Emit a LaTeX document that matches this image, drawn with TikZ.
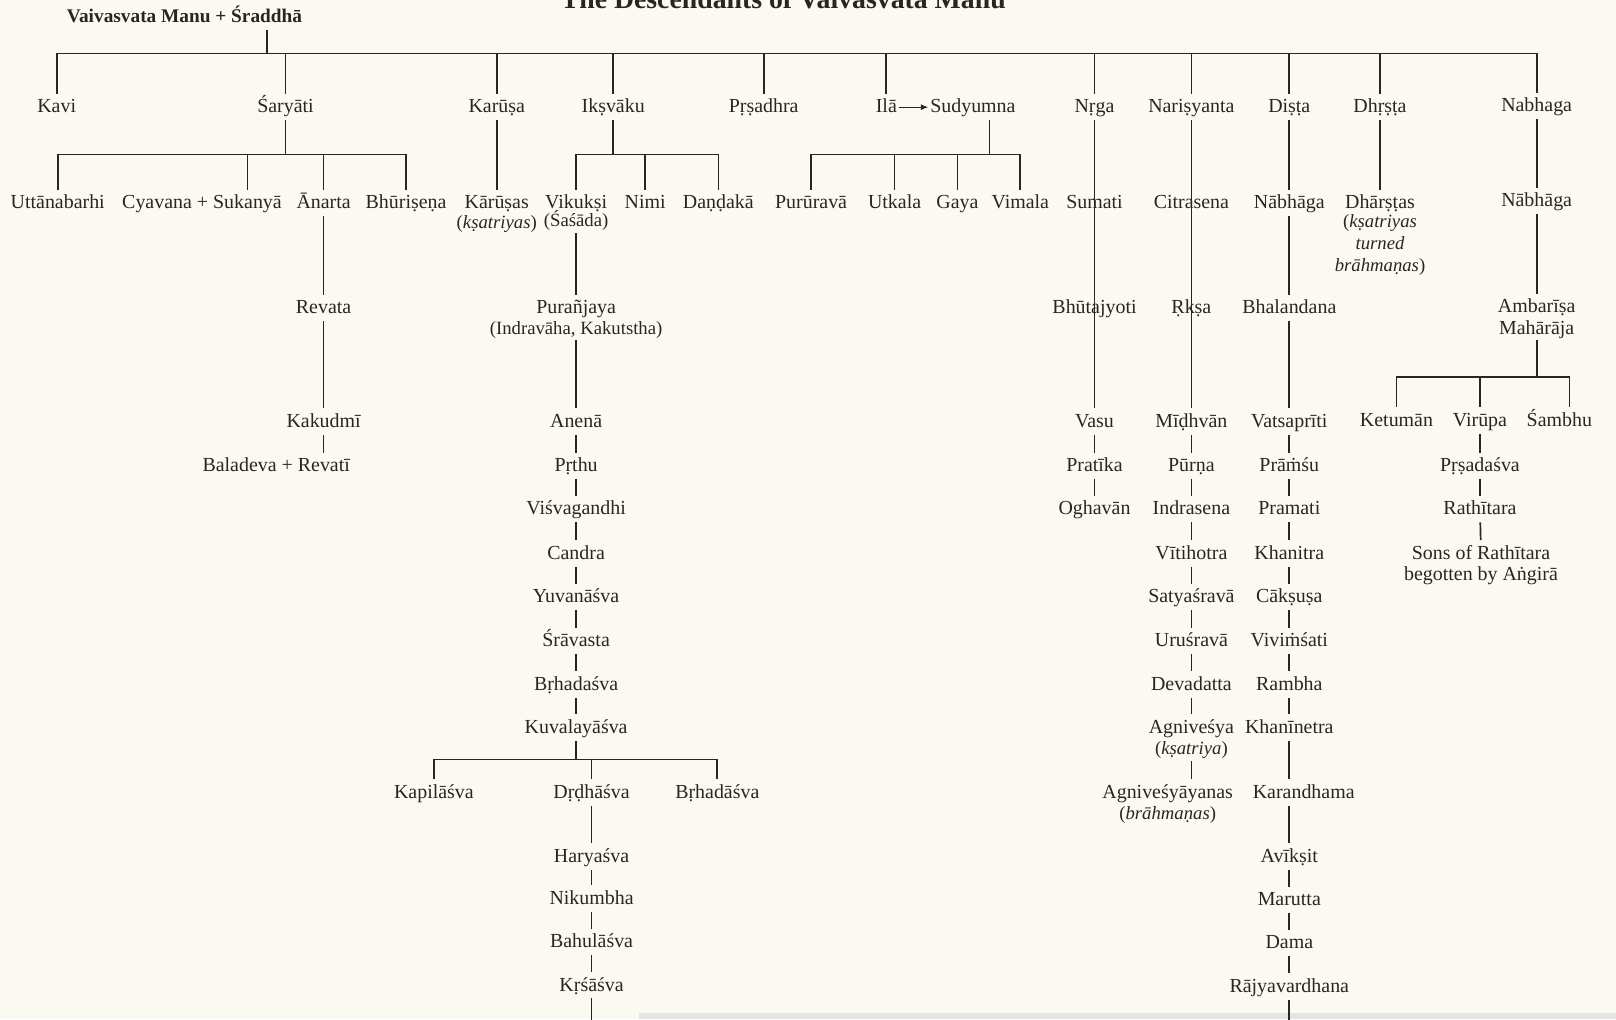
\documentclass[tikz,border=0pt]{standalone}
\usepackage{fontspec}
\setmainfont{Liberation Serif}
\usetikzlibrary{arrows.meta}
\definecolor{paper}{RGB}{251,250,242}
\definecolor{ink}{RGB}{40,38,35}
\tikzset{
  tname/.style  ={text=ink, inner sep=1.5pt, text height=14pt, text depth=4.5pt,
                  font=\fontsize{16.5}{19}\selectfont},
  tname2/.style ={tname, inner sep=1pt, text height=11pt, text depth=4pt},
  tsub/.style   ={tname2, font=\fontsize{15.5}{18}\selectfont},
  troot/.style  ={tname, font=\fontsize{16}{18}\selectfont\bfseries},
  ttitle/.style ={text=ink, inner sep=0pt, anchor=base,
                  font=\fontsize{23}{26}\selectfont\bfseries},
  kin/.style    ={draw=ink, line width=1.4pt},
  becomes/.style={draw=ink, line width=1pt, -{Latex[length=6pt,width=5pt]}}
}

\begin{document}
\begin{tikzpicture}[x=0.03cm, y=-0.03cm]
  \useasboundingbox (0,0) rectangle (1568,989);
  \clip (0,0) rectangle (1568,989);
  \fill[paper] (0,0) rectangle (1568,989);
  \fill[black!10] (620,983) rectangle (1568,989);

  % title and parents
  \node[ttitle] (title) at (760,8) {The Descendants of Vaivasvata Manu};
  \node[troot]  (manu)  at (179,16) {Vaivasvata Manu + Śraddhā};
  \coordinate (jmanu) at (259,52);

  % sons of Manu
  \node[tname] (kavi)       at (55,104)   {Kavi};
  \node[tname] (saryati)    at (277,104)  {Śaryāti};
  \node[tname] (karusa)     at (482,104)  {Karūṣa};
  \node[tname] (iksvaku)    at (595,104)  {Ikṣvāku};
  \node[tname] (prsadhra)   at (741,104)  {Pṛṣadhra};
  \node[tname] (ila)        at (860,104)  {Ilā};
  \node[tname] (sudyumna)   at (944,104)  {Sudyumna};
  \node[tname] (nrga)       at (1062,104) {Nṛga};
  \node[tname] (narisyanta) at (1156,104) {Nariṣyanta};
  \node[tname] (dista)      at (1251,104) {Diṣṭa};
  \node[tname] (dhrsta)     at (1339,104) {Dhṛṣṭa};
  \node[tname] (nabhaga)    at (1491,103) {Nabhaga};
  \draw[kin] (manu.south -| jmanu) -- (jmanu);
  \draw[kin] (kavi.north) |- (nabhaga.north |- jmanu) -- (nabhaga.north);
  \foreach \n in {saryati,karusa,iksvaku,prsadhra,ila,nrga,narisyanta,dista,dhrsta}
    \draw[kin] (\n.north |- jmanu) -- (\n.north);
  \draw[becomes] (ila) -- (sudyumna);

  % Saryati
  \node[tname] (uttana)    at (56,197)  {Uttānabarhi};
  \node[tname] (cyavana)   at (196,197) {Cyavana + Sukanyā};
  \node[tname] (anarta)    at (314,197) {Ānarta};
  \node[tname] (bhurisena) at (394,197) {Bhūriṣeṇa};
  \coordinate (jsar) at (277,150);
  \coordinate (dcya) at (240,150);
  \draw[kin] (saryati.south) -- (jsar);
  \draw[kin] (uttana.north) |- (bhurisena.north |- jsar) -- (bhurisena.north);
  \draw[kin] (dcya) -- (dcya |- cyavana.north);
  \draw[kin] (anarta.north |- jsar) -- (anarta.north);
  \node[tname] (revata)   at (314,299) {Revata};
  \node[tname] (kakudmi)  at (314,409) {Kakudmī};
  \node[tname] (baladeva) at (268,452) {Baladeva + Revatī};
  \draw[kin] (anarta) -- (revata);
  \draw[kin] (revata) -- (kakudmi);
  \draw[kin] (kakudmi.south) -- (kakudmi.south |- baladeva.north);

  % Karusa
  \node[tname] (karusas)     at (482,197) {Kārūṣas};
  \node[tsub]  (karusasnote) at (482,218) {(\textit{kṣatriyas})};
  \draw[kin] (karusa) -- (karusas);

  % Iksvaku
  \node[tname] (vikuksi) at (559,197) {Vikukṣi};
  \node[tsub]  (sasada)  at (559,216) {(Śaśāda)};
  \node[tname] (nimi)    at (626,197) {Nimi};
  \node[tname] (dandaka) at (697,197) {Daṇḍakā};
  \coordinate (jiks) at (595,150);
  \draw[kin] (iksvaku.south) -- (jiks);
  \draw[kin] (vikuksi.north) |- (dandaka.north |- jiks) -- (dandaka.north);
  \draw[kin] (nimi.north |- jiks) -- (nimi.north);
  \node[tname] (puranjaya)   at (559,299) {Purañjaya};
  \node[tsub]  (indravaha)   at (559,320) {(Indravāha, Kakutstha)};
  \node[tname] (anena)       at (559,409) {Anenā};
  \node[tname] (prthu)       at (559,452) {Pṛthu};
  \node[tname] (visvagandhi) at (559,494) {Viśvagandhi};
  \node[tname] (candra)      at (559,537) {Candra};
  \node[tname] (yuvanasva)   at (559,579) {Yuvanāśva};
  \node[tname] (sravasta)    at (559,622) {Śrāvasta};
  \node[tname] (brhadasva)   at (559,664) {Bṛhadaśva};
  \node[tname] (kuvalayasva) at (559,706) {Kuvalayāśva};
  \draw[kin] (sasada) -- (puranjaya);
  \draw[kin] (indravaha) -- (anena);
  \foreach \a/\b in {anena/prthu,prthu/visvagandhi,visvagandhi/candra,candra/yuvanasva,
                     yuvanasva/sravasta,sravasta/brhadasva,brhadasva/kuvalayasva}
    \draw[kin] (\a) -- (\b);
  \coordinate (jkuv) at (559,737);
  \node[tname] (kapilasva)  at (421,769) {Kapilāśva};
  \node[tname] (drdhasva)   at (574,769) {Dṛḍhāśva};
  \node[tname] (brhadasvab) at (696,769) {Bṛhadāśva};
  \draw[kin] (kuvalayasva.south) -- (jkuv);
  \draw[kin] (kapilasva.north) |- (brhadasvab.north |- jkuv) -- (brhadasvab.north);
  \draw[kin] (drdhasva.north |- jkuv) -- (drdhasva.north);
  \node[tname] (haryasva)  at (574,831) {Haryaśva};
  \node[tname] (nikumbha)  at (574,872) {Nikumbha};
  \node[tname] (bahulasva) at (574,914) {Bahulāśva};
  \node[tname] (krsasva)   at (574,956) {Kṛśāśva};
  \foreach \a/\b in {drdhasva/haryasva,haryasva/nikumbha,nikumbha/bahulasva,bahulasva/krsasva}
    \draw[kin] (\a) -- (\b);
  \coordinate (krsend) at (574,995);
  \draw[kin] (krsasva.south) -- (krsend);

  % Ila -> Sudyumna
  \node[tname] (pururava) at (787,197) {Purūravā};
  \node[tname] (utkala)   at (868,197) {Utkala};
  \node[tname] (gaya)     at (929,197) {Gaya};
  \node[tname] (vimala)   at (990,197) {Vimala};
  \coordinate (jsud) at (960,150);
  \draw[kin] (jsud |- sudyumna.south) -- (jsud);
  \draw[kin] (pururava.north) |- (vimala.north |- jsud) -- (vimala.north);
  \foreach \n in {utkala,gaya}
    \draw[kin] (\n.north |- jsud) -- (\n.north);

  % Nrga
  \node[tname] (sumati)     at (1062,197) {Sumati};
  \node[tname] (bhutajyoti) at (1062,299) {Bhūtajyoti};
  \node[tname] (vasu)       at (1062,409) {Vasu};
  \node[tname] (pratika)    at (1062,452) {Pratīka};
  \node[tname] (oghavan)    at (1062,494) {Oghavān};
  \draw[kin] (nrga) -- (vasu); % runs through the names
  \foreach \a/\b in {vasu/pratika,pratika/oghavan}
    \draw[kin] (\a) -- (\b);

  % Narisyanta
  \node[tname] (citrasena)  at (1156,197) {Citrasena};
  \node[tname] (rksa)       at (1156,299) {Ṛkṣa};
  \node[tname] (midhvan)    at (1156,409) {Mīḍhvān};
  \node[tname] (purna)      at (1156,452) {Pūrṇa};
  \node[tname] (indrasena)  at (1156,494) {Indrasena};
  \node[tname] (vitihotra)  at (1156,537) {Vītihotra};
  \node[tname] (satyasrava) at (1156,579) {Satyaśravā};
  \node[tname] (urusrava)   at (1156,622) {Uruśravā};
  \node[tname] (devadatta)  at (1156,664) {Devadatta};
  \node[tname] (agnivesya)  at (1156,706) {Agniveśya};
  \node[tsub]  (agninote)   at (1156,728) {(\textit{kṣatriya})};
  \node[tname] (agnivesyayanas) at (1133,769) {Agniveśyāyanas};
  \node[tsub]  (brahmananote)   at (1133,791) {(\textit{brāhmaṇas})};
  \draw[kin] (narisyanta) -- (midhvan); % runs through the names
  \foreach \a/\b in {midhvan/purna,purna/indrasena,indrasena/vitihotra,vitihotra/satyasrava,
                     satyasrava/urusrava,urusrava/devadatta,devadatta/agnivesya}
    \draw[kin] (\a) -- (\b);
  \draw[kin] (agninote.south) -- (agninote.south |- agnivesyayanas.north);

  % Dista
  \node[tname] (nabhagad)   at (1251,197) {Nābhāga};
  \node[tname] (bhalandana) at (1251,299) {Bhalandana};
  \node[tname] (vatsapriti) at (1251,409) {Vatsaprīti};
  \node[tname] (pramsu)     at (1251,452) {Prāṁśu};
  \node[tname] (pramati)    at (1251,494) {Pramati};
  \node[tname] (khanitra)   at (1251,537) {Khanitra};
  \node[tname] (caksusa)    at (1251,579) {Cākṣuṣa};
  \node[tname] (vivimsati)  at (1251,622) {Viviṁśati};
  \node[tname] (rambha)     at (1251,664) {Rambha};
  \node[tname] (khaninetra) at (1251,706) {Khanīnetra};
  \node[tname] (karandhama) at (1265,769) {Karandhama};
  \node[tname] (aviksit)    at (1251,831) {Avīkṣit};
  \node[tname] (marutta)    at (1251,873) {Marutta};
  \node[tname] (dama)       at (1251,915) {Dama};
  \node[tname] (rajya)      at (1251,957) {Rājyavardhana};
  \foreach \a/\b in {dista/nabhagad,nabhagad/bhalandana,bhalandana/vatsapriti,
                     vatsapriti/pramsu,pramsu/pramati,pramati/khanitra,khanitra/caksusa,
                     caksusa/vivimsati,vivimsati/rambha,rambha/khaninetra,
                     aviksit/marutta,marutta/dama,dama/rajya}
    \draw[kin] (\a) -- (\b);
  \draw[kin] (khaninetra.south) -- (khaninetra.south |- karandhama.north);
  \draw[kin] (aviksit.north |- karandhama.south) -- (aviksit.north);
  \coordinate (rajyaend) at (1251,995);
  \draw[kin] (rajya.south) -- (rajyaend);

  % Dhrsta
  \node[tname] (dharstas) at (1339,197) {Dhārṣṭas};
  \node[tsub]  (dharnote1) at (1339,217) {(\textit{kṣatriyas}};
  \node[tsub]  (dharnote2) at (1339,238) {\textit{turned}};
  \node[tsub]  (dharnote3) at (1339,259) {\textit{brāhmaṇas})};
  \draw[kin] (dhrsta) -- (dharstas);

  % Nabhaga
  \node[tname]  (nabhagan) at (1491,195) {Nābhāga};
  \node[tname]  (ambarisa) at (1491,298) {Ambarīṣa};
  \node[tname2] (maharaja) at (1491,320) {Mahārāja};
  \node[tname]  (ketuman)  at (1355,408) {Ketumān};
  \node[tname]  (virupa)   at (1436,408) {Virūpa};
  \node[tname]  (sambhu)   at (1513,408) {Śambhu};
  \coordinate (jamb) at (1491,366);
  \coordinate (dsam) at (1523,366);
  \draw[kin] (nabhaga) -- (nabhagan);
  \draw[kin] (nabhagan) -- (ambarisa);
  \draw[kin] (maharaja.south) -- (jamb);
  \draw[kin] (ketuman.north) |- (dsam) -- (dsam |- sambhu.north);
  \draw[kin] (virupa.north |- jamb) -- (virupa.north);
  \node[tname]  (prsadasva) at (1436,452) {Pṛṣadaśva};
  \node[tname]  (rathitara) at (1436,494) {Rathītara};
  \node[tname]  (sons)      at (1437,537) {Sons of Rathītara};
  \node[tname2] (begotten)  at (1437,559) {begotten by Aṅgirā};
  \foreach \a/\b in {virupa/prsadasva,prsadasva/rathitara,rathitara/sons}
    \draw[kin] (\a) -- (\b);
\end{tikzpicture}
\end{document}
